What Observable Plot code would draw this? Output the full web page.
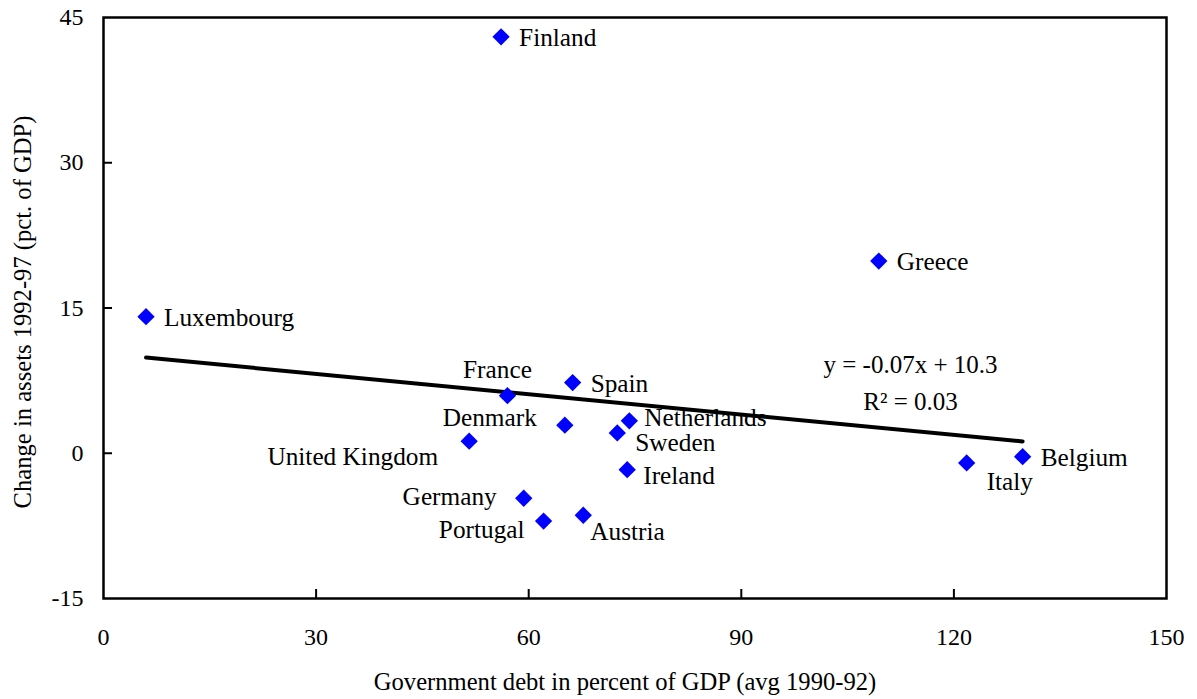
<!DOCTYPE html>
<html><head><meta charset="utf-8">
<script src="https://cdn.jsdelivr.net/npm/d3@7"></script>
<script src="https://cdn.jsdelivr.net/npm/@observablehq/plot@0.6"></script>
<style>html,body{margin:0;padding:0;background:#fff} svg{display:block}</style>
</head><body><div id="chart"></div>
<script>
// ---- data ----
const countries = ["Finland","Greece","Luxembourg","France","Spain","Denmark","Netherlands","Sweden","United Kingdom","Ireland","Germany","Portugal","Austria","Italy","Belgium"];
const debt =        [56.1, 109.4, 6.0, 57.0, 66.2, 65.1, 74.2, 72.5, 51.6, 73.9, 59.3, 62.1, 67.7, 121.8, 129.7];
const assetChange = [43.0, 19.85, 14.1, 5.95, 7.3, 2.9, 3.35, 2.1, 1.25, -1.7, -4.65, -7.0, -6.4, -1.0, -0.35];
const xTicks = [0, 30, 60, 90, 120, 150];
const yTicks = [-15, 0, 15, 30, 45];
const trendSlope = -0.07;
const trendIntercept = 10.3;
const eqText = "y = -0.07x + 10.3";
const r2Text = "R² = 0.03";
const xTitle = "Government debt in percent of GDP (avg 1990-92)";
const yTitle = "Change in assets 1992-97 (pct. of GDP)";

// ---- label placement (styling) ----
const labelPlacement = {
  "Finland":        {anchor: "start",  dx: 18,  dy: 1},
  "Greece":         {anchor: "start",  dx: 18,  dy: 1},
  "Luxembourg":     {anchor: "start",  dx: 18,  dy: 1},
  "France":         {anchor: "middle", dx: -10, dy: -26},
  "Spain":          {anchor: "start",  dx: 18,  dy: 1},
  "Denmark":        {anchor: "end",    dx: -28, dy: -7},
  "Netherlands":    {anchor: "start",  dx: 15,  dy: -3},
  "Sweden":         {anchor: "start",  dx: 18,  dy: 10},
  "United Kingdom": {anchor: "end",    dx: -31, dy: 16},
  "Ireland":        {anchor: "start",  dx: 16,  dy: 6},
  "Germany":        {anchor: "end",    dx: -27, dy: -1},
  "Portugal":       {anchor: "end",    dx: -19, dy: 9},
  "Austria":        {anchor: "start",  dx: 7,   dy: 17},
  "Italy":          {anchor: "start",  dx: 20,  dy: 19},
  "Belgium":        {anchor: "start",  dx: 18,  dy: 1}
};

const W = 1197, H = 699;
const mL = 103, mR = 31, mT = 17, mB = 101;
const plotW = W - mL - mR, plotH = H - mT - mB;

const data = countries.map((c, i) => ({country: c, debt: debt[i], change: assetChange[i]}));
const trend = d3.extent(debt).map(x => ({x, y: trendIntercept + trendSlope * x}));

const labelMarks = countries.map(c => {
  const p = labelPlacement[c];
  return Plot.text(data.filter(d => d.country === c), {
    x: "debt", y: "change", text: "country", fontSize: 25.3,
    textAnchor: p.anchor, dx: p.dx, dy: p.dy, lineAnchor: "middle", fill: "black"
  });
});

const chart = Plot.plot({
  width: W, height: H,
  marginLeft: mL, marginRight: mR, marginTop: mT, marginBottom: mB,
  style: {fontFamily: "'Liberation Serif', 'Times New Roman', serif", fontSize: "24px", background: "#fff", color: "black"},
  x: {domain: [0, 150]},
  y: {domain: [-15, 45]},
  marks: [
    Plot.frame({stroke: "black", strokeWidth: 2.5}),
    Plot.tickX(xTicks.slice(1, -1), {x: d => d, insetTop: plotH - 9, stroke: "black", strokeWidth: 2}),
    Plot.tickY(yTicks.slice(1, -1), {y: d => d, insetRight: plotW - 9, stroke: "black", strokeWidth: 2}),
    Plot.axisX(xTicks, {tickSize: 0, tickPadding: 29, fontSize: 24, label: null, tickFormat: d => String(d)}),
    Plot.axisY(yTicks, {tickSize: 0, tickPadding: 20, fontSize: 24, label: null, tickFormat: d => String(d)}),
    Plot.line(trend, {x: "x", y: "y", stroke: "black", strokeWidth: 4}),
    Plot.dot(data, {x: "debt", y: "change", symbol: "diamond2", r: 7.8, fill: "#0000ff", stroke: "none"}),
    ...labelMarks,
    Plot.text([eqText], {text: d => d, fontSize: 25, frameAnchor: "top-left", dx: 807, dy: 347, textAnchor: "middle", lineAnchor: "middle"}),
    Plot.text([r2Text], {text: d => d, fontSize: 25, frameAnchor: "top-left", dx: 807, dy: 384, textAnchor: "middle", lineAnchor: "middle"}),
    Plot.text([xTitle], {text: d => d, fontSize: 24.6, frameAnchor: "bottom", textAnchor: "middle", dx: -10, dy: 84, lineAnchor: "middle"}),
    Plot.text([yTitle], {text: d => d, fontSize: 24.6, frameAnchor: "left", textAnchor: "middle", rotate: -90, dx: -80, dy: 4, lineAnchor: "middle"})
  ]
});
document.getElementById("chart").appendChild(chart);
</script>
</body></html>
